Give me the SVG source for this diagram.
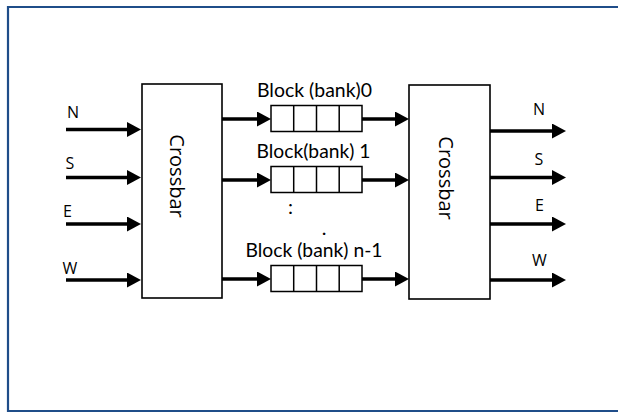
<svg xmlns="http://www.w3.org/2000/svg" width="618" height="412" viewBox="0 0 618 412">
<style>
.frame{fill:#fff;stroke:#1f4d89;stroke-width:2.2}
.xbar{fill:#fff;stroke:#000;stroke-width:1.6}
.cell{fill:#fff;stroke:#000;stroke-width:1.5}
.conn{stroke:#000;stroke-width:3.6;fill:none}
.dir{font-family:"Open Sans","Noto Sans",sans-serif;font-size:16px;fill:#000}
.xt{font-family:"Open Sans","Noto Sans",sans-serif;font-size:20px;fill:#000}
.blk{font-family:Lato,"Noto Sans",sans-serif;font-size:20px;fill:#000}
</style>
<defs>
<marker id="ah" markerUnits="userSpaceOnUse" markerWidth="15" markerHeight="16" refX="0" refY="7.5" orient="auto">
<path d="M0,0 L14,7.5 L0,15 Z" fill="#000"/>
</marker>
</defs>
<path class="frame" d="M640,7H8V411H640" fill="none"/>

<g id="crossbar-in">
<rect class="xbar" x="142" y="84" width="80" height="214"/>
<text class="xt" transform="translate(177,176) rotate(90)" text-anchor="middle" dominant-baseline="central">Crossbar</text>
</g>
<g id="crossbar-out">
<rect class="xbar" x="409" y="85" width="81" height="214"/>
<text class="xt" transform="translate(446,178) rotate(90)" text-anchor="middle" dominant-baseline="central">Crossbar</text>
</g>

<g id="block0">
<rect class="cell" x="271" y="105.5" width="91" height="26"/>
<path class="cell" d="M293.7,105.5V131.5M316.5,105.5V131.5M339.2,105.5V131.5"/>
<text class="blk" x="257" y="97" textLength="115" lengthAdjust="spacingAndGlyphs">Block (bank)0</text>
</g>
<g id="block1">
<rect class="cell" x="271" y="166.5" width="91" height="26"/>
<path class="cell" d="M293.7,166.5V192.5M316.5,166.5V192.5M339.2,166.5V192.5"/>
<text class="blk" x="256.5" y="157.5" textLength="114" lengthAdjust="spacingAndGlyphs">Block(bank) 1</text>
</g>
<g id="ellipsis">
<text class="blk" x="290.5" y="214" text-anchor="middle">:</text>
<text class="blk" x="324" y="235" text-anchor="middle">.</text>
</g>
<g id="blockn">
<rect class="cell" x="271" y="265.5" width="91" height="26"/>
<path class="cell" d="M293.7,265.5V291.5M316.5,265.5V291.5M339.2,265.5V291.5"/>
<text class="blk" x="245.5" y="257" textLength="137" lengthAdjust="spacingAndGlyphs">Block (bank) n-1</text>
</g>

<g id="labels-in">
<text class="dir" x="67" y="118.3">N</text>
<text class="dir" x="65.5" y="169">S</text>
<text class="dir" x="63" y="216.5">E</text>
<text class="dir" x="62.5" y="274">W</text>
</g>
<g id="labels-out">
<text class="dir" x="533" y="115">N</text>
<text class="dir" x="534.5" y="165">S</text>
<text class="dir" x="535" y="210.5">E</text>
<text class="dir" x="532" y="266">W</text>
</g>

<g id="connectors">
<line class="conn" x1="66" y1="129.5" x2="127" y2="129.5" marker-end="url(#ah)"/>
<line class="conn" x1="66" y1="177.5" x2="127" y2="177.5" marker-end="url(#ah)"/>
<line class="conn" x1="66" y1="224" x2="127" y2="224" marker-end="url(#ah)"/>
<line class="conn" x1="66" y1="280" x2="127" y2="280" marker-end="url(#ah)"/>

<line class="conn" x1="222" y1="119" x2="257" y2="119" marker-end="url(#ah)"/>
<line class="conn" x1="222" y1="180" x2="257" y2="180" marker-end="url(#ah)"/>
<line class="conn" x1="222" y1="279" x2="257" y2="279" marker-end="url(#ah)"/>

<line class="conn" x1="362" y1="119" x2="395" y2="119" marker-end="url(#ah)"/>
<line class="conn" x1="362" y1="180" x2="395" y2="180" marker-end="url(#ah)"/>
<line class="conn" x1="362" y1="279" x2="395" y2="279" marker-end="url(#ah)"/>

<line class="conn" x1="490" y1="131" x2="552" y2="131" marker-end="url(#ah)"/>
<line class="conn" x1="490" y1="177.5" x2="552" y2="177.5" marker-end="url(#ah)"/>
<line class="conn" x1="490" y1="224" x2="552" y2="224" marker-end="url(#ah)"/>
<line class="conn" x1="490" y1="280" x2="552" y2="280" marker-end="url(#ah)"/>
</g>
</svg>
